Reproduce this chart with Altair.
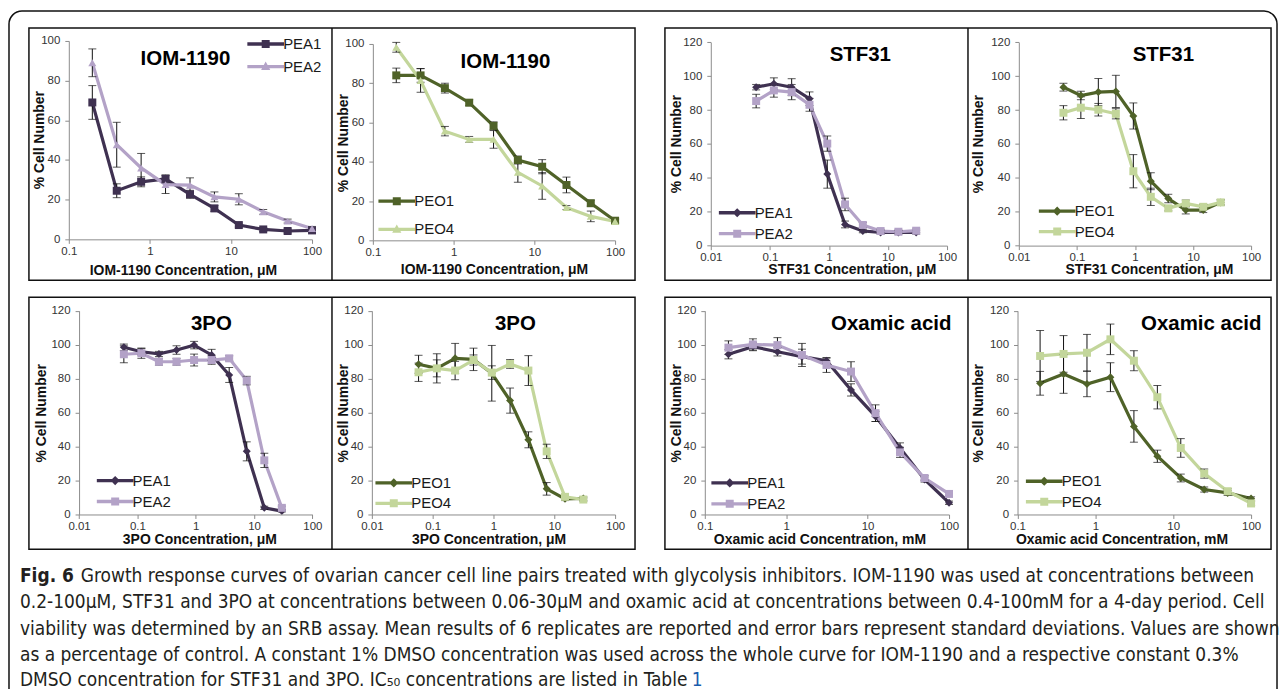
import altair as alt
import pandas as pd

M = 8          # page margin
W, H = 1276, 681

# ---------------- data ----------------
conc_iom = [0.195, 0.39, 0.78, 1.56, 3.125, 6.25, 12.5, 25, 50, 100]
conc_stf = [0.0586, 0.117, 0.234, 0.469, 0.938, 1.875, 3.75, 7.5, 15, 30]
conc_3po = [0.0586, 0.117, 0.234, 0.469, 0.938, 1.875, 3.75, 7.5, 15, 30]
conc_oxa = [0.195, 0.39, 0.78, 1.56, 3.125, 6.25, 12.5, 25, 50, 100]

iom_pea1 = [69, 24.5, 29, 30.5, 22.7, 15.6, 7.2, 5.0, 4.2, 4.5]
iom_pea1_sd = [8.5, 3.5, 2.5, 2.0, 2.0, 1.5, 1.0, 1.0, 1.0, 1.0]
iom_pea2 = [89, 47.7, 36, 27.6, 27.3, 21.4, 20.2, 13.9, 9.2, 5.5]
iom_pea2_sd = [7, 11.3, 7.3, 4.5, 3.7, 2.5, 2.8, 1.2, 1.0, 1.0]
iom_peo1 = [84, 84, 77.5, 70.1, 58.3, 40.9, 37.5, 28.2, 18.9, 10]
iom_peo1_sd = [3.7, 3.5, 2.5, 1.5, 2.0, 2.0, 3.6, 4.0, 1.5, 1.0]
iom_peo4 = [98.3, 81.4, 55.6, 51.4, 51.4, 34.6, 27.7, 16.7, 12.2, 9.6]
iom_peo4_sd = [2.5, 6.0, 2.4, 1.5, 4.5, 5.0, 6.8, 1.0, 2.7, 1.0]

stf_pea1 = [93.5, 95.5, 93.5, 86.7, 42.2, 12.5, 8.6, 7.8, 7.8, 7.8]
stf_pea1_sd = [1.6, 3.5, 5.0, 4.0, 8.3, 2.0, 1.0, 1.0, 1.0, 1.0]
stf_pea2 = [85.3, 91.6, 90.6, 83.1, 60.2, 24.3, 12.2, 8.6, 8.2, 8.8]
stf_pea2_sd = [4.0, 4.0, 4.5, 3.8, 4.5, 3.7, 1.5, 1.0, 1.0, 1.0]
stf_peo1 = [93.5, 88.6, 90.6, 91.0, 76.5, 38.0, 27.8, 21.0, 21.0, 25.5]
stf_peo1_sd = [2.3, 2.5, 8.0, 9.5, 7.7, 5.0, 2.5, 2.3, 1.5, 1.5]
stf_peo4 = [78.4, 81.4, 80.2, 77.8, 43.9, 28.8, 22.0, 24.9, 22.9, 25.5]
stf_peo4_sd = [4.2, 6.4, 3.7, 3.0, 9.8, 5.1, 1.5, 2.0, 1.5, 1.5]

tpo_pea1 = [98.5, 95.9, 94.6, 96.9, 99.8, 94.0, 82.2, 37.2, 3.9, 2.0]
tpo_pea1_sd = [1.9, 2.0, 1.5, 2.5, 2.2, 3.3, 4.4, 5.6, 1.0, 0.5]
tpo_pea2 = [94.4, 95.0, 90.0, 90.0, 91.0, 91.0, 92.0, 78.9, 31.9, 3.9]
tpo_pea2_sd = [5.0, 3.0, 2.0, 2.0, 3.5, 2.5, 1.5, 2.5, 4.2, 1.0]
tpo_peo1 = [88.5, 86.1, 92.0, 91.4, 83.2, 67.1, 44.0, 15.1, 9.2, 9.4]
tpo_peo1_sd = [5.3, 8.6, 8.8, 6.6, 16.4, 7.4, 4.7, 3.7, 1.0, 1.0]
tpo_peo4 = [83.8, 86.1, 84.8, 91.0, 83.6, 88.7, 84.8, 37.2, 10.4, 8.8]
tpo_peo4_sd = [5.4, 5.0, 5.4, 3.0, 4.0, 2.6, 8.8, 4.2, 1.0, 1.0]

oxa_pea1 = [94.4, 98.9, 95.9, 93.0, 90.6, 73.4, 57.8, 39.2, 20.6, 6.9]
oxa_pea1_sd = [2.7, 2.4, 2.5, 4.4, 1.5, 3.6, 3.0, 3.0, 1.5, 1.0]
oxa_pea2 = [98.3, 100.2, 99.8, 94.0, 88.1, 84.2, 59.7, 36.6, 21.5, 12.1]
oxa_pea2_sd = [4.0, 3.3, 4.4, 6.8, 4.4, 5.8, 4.9, 3.0, 1.5, 1.0]
oxa_peo1 = [77.3, 82.8, 76.9, 80.9, 51.9, 34.3, 21.5, 14.7, 12.7, 9.4]
oxa_peo1_sd = [7.0, 11.4, 7.5, 8.5, 9.3, 3.6, 2.3, 1.5, 1.5, 1.0]
oxa_peo4 = [93.4, 94.6, 95.3, 103.2, 90.6, 69.1, 39.2, 24.1, 13.7, 6.5]
oxa_peo4_sd = [15.0, 10.8, 10.8, 9.0, 5.9, 6.9, 5.5, 2.7, 1.5, 1.0]

pea_series = ["PEA1", "PEA2"]
peo_series = ["PEO1", "PEO4"]
pea_colors = ["#3f3151", "#b3a2c7"]
peo_colors = ["#4f6228", "#c3d69b"]

drug_titles = ["IOM-1190", "IOM-1190", "STF31", "STF31", "3PO", "3PO", "Oxamic acid", "Oxamic acid"]
x_titles = ["IOM-1190 Concentration, \u03bcM", "IOM-1190 Concentration, \u03bcM",
            "STF31 Concentration, \u03bcM", "STF31 Concentration, \u03bcM",
            "3PO Concentration, \u03bcM", "3PO Concentration, \u03bcM",
            "Oxamic acid Concentration, mM", "Oxamic acid Concentration, mM"]
y_title = "% Cell Number"
xticks_3 = [0.1, 1, 10, 100]
xticks_4 = [0.01, 0.1, 1, 10, 100]
yticks_100 = [0, 20, 40, 60, 80, 100]
yticks_120 = [0, 20, 40, 60, 80, 100, 120]

caption_bold = "Fig. 6"
caption_lines = [
    "Growth response curves of ovarian cancer cell line pairs treated with glycolysis inhibitors. IOM-1190 was used at concentrations between",
    "0.2-100\u03bcM, STF31 and 3PO at concentrations between 0.06-30\u03bcM and oxamic acid at concentrations between 0.4-100mM for a 4-day period. Cell",
    "viability was determined by an SRB assay. Mean results of 6 replicates are reported and error bars represent standard deviations. Values are shown",
    "as a percentage of control. A constant 1% DMSO concentration was used across the whole curve for IOM-1190 and a respective constant 0.3%",
    "DMSO concentration for STF31 and 3PO. IC\u2085\u2080 concentrations are listed in Table",
]
caption_link = "1"

# ---------------- styling helpers ----------------
FONT = "Liberation Sans"
CAP_FONT = "DejaVu Sans Condensed, Liberation Sans Narrow, sans-serif"
CAP_SIZE = 19.0
WING = "M-4.6,-0.42H4.6V0.42H-4.6Z "
PATH = {
    "square": WING + "M-1,-1H1V1H-1Z",
    "triangle-up": WING + "M0,-1.25L1.15,0.85H-1.15Z",
    "diamond": WING + "M0,-1.15L1.15,0L0,1.15L-1.15,0Z",
}

# panel geometry in page pixels
panels_cfg = [
    dict(conc=conc_iom, series=pea_series, colors=pea_colors, vals=[iom_pea1, iom_pea2], sds=[iom_pea1_sd, iom_pea2_sd],
         shapes=["square", "triangle-up"], xdom=[0.1, 100], xticks=xticks_3, ydom=[0, 100], yticks=yticks_100,
         x0=69, x1=313, yb=239, yt=40, xt=(183.5, 270), yt_=(40, 139), title=(186, 64.5), leg=(265, 43, 21.7)),
    dict(conc=conc_iom, series=peo_series, colors=peo_colors, vals=[iom_peo1, iom_peo4], sds=[iom_peo1_sd, iom_peo4_sd],
         shapes=["square", "triangle-up"], xdom=[0.1, 100], xticks=xticks_3, ydom=[0, 100], yticks=yticks_100,
         x0=374, x1=617, yb=240, yt=43, xt=(495.5, 269.5), yt_=(345, 142), title=(507, 67), leg=(396.5, 200.7, 27.3)),
    dict(conc=conc_stf, series=pea_series, colors=pea_colors, vals=[stf_pea1, stf_pea2], sds=[stf_pea1_sd, stf_pea2_sd],
         shapes=["diamond", "square"], xdom=[0.01, 100], xticks=xticks_4, ydom=[0, 120], yticks=yticks_120,
         x0=713, x1=950, yb=245.3, yt=41.3, xt=(854.5, 269.5), yt_=(679, 143), title=(863, 60.3), leg=(738, 212.3, 20)),
    dict(conc=conc_stf, series=peo_series, colors=peo_colors, vals=[stf_peo1, stf_peo4], sds=[stf_peo1_sd, stf_peo4_sd],
         shapes=["diamond", "square"], xdom=[0.01, 100], xticks=xticks_4, ydom=[0, 120], yticks=yticks_120,
         x0=1022, x1=1255, yb=245.3, yt=41.3, xt=(1152.5, 269.5), yt_=(982, 143), title=(1167, 60.3), leg=(1059, 210.7, 19.5)),
    dict(conc=conc_3po, series=pea_series, colors=pea_colors, vals=[tpo_pea1, tpo_pea2], sds=[tpo_pea1_sd, tpo_pea2_sd],
         shapes=["diamond", "square"], xdom=[0.01, 100], xticks=xticks_4, ydom=[0, 120], yticks=yticks_120,
         x0=79.3, x1=313.3, yb=515, yt=310.7, xt=(200, 540), yt_=(42, 413), title=(212, 330), leg=(114, 481, 20)),
    dict(conc=conc_3po, series=peo_series, colors=peo_colors, vals=[tpo_peo1, tpo_peo4], sds=[tpo_peo1_sd, tpo_peo4_sd],
         shapes=["diamond", "square"], xdom=[0.01, 100], xticks=xticks_4, ydom=[0, 120], yticks=yticks_120,
         x0=373, x1=617, yb=515, yt=310.7, xt=(490, 540), yt_=(345, 413), title=(517, 330), leg=(393.5, 483.3, 19.5)),
    dict(conc=conc_oxa, series=pea_series, colors=pea_colors, vals=[oxa_pea1, oxa_pea2], sds=[oxa_pea1_sd, oxa_pea2_sd],
         shapes=["diamond", "square"], xdom=[0.1, 100], xticks=xticks_3, ydom=[0, 120], yticks=yticks_120,
         x0=707, x1=952, yb=515, yt=310.7, xt=(822, 540), yt_=(679, 413), title=(894, 330), leg=(730.5, 483.3, 20)),
    dict(conc=conc_oxa, series=peo_series, colors=peo_colors, vals=[oxa_peo1, oxa_peo4], sds=[oxa_peo1_sd, oxa_peo4_sd],
         shapes=["diamond", "square"], xdom=[0.1, 100], xticks=xticks_3, ydom=[0, 120], yticks=yticks_120,
         x0=1020.7, x1=1255, yb=515, yt=310.7, xt=(1125, 540), yt_=(982, 413), title=(1205, 329.5), leg=(1046, 481.7, 19.5)),
]

LEG_ENTRY_H = 15


def panel_layers(i, p):
    rows = []
    for s, vals, sds in zip(p["series"], p["vals"], p["sds"]):
        for c, v, sd in zip(p["conc"], vals, sds):
            rows.append({"conc": c, "pct": v, "lo": v - sd, "hi": v + sd, "series": s})
    df = pd.DataFrame(rows)

    def xs():
        return alt.Scale(type="log", domain=p["xdom"], range=[p["x0"] - M, p["x1"] - M], nice=False)

    def ys():
        return alt.Scale(type="linear", domain=p["ydom"], range=[p["yb"] - M, p["yt"] - M], nice=False, zero=False)

    def cs():
        return alt.Scale(domain=p["series"], range=p["colors"])

    ss = alt.Scale(domain=p["series"], range=p["shapes"])
    ls = alt.Scale(domain=p["series"], range=[PATH[p["shapes"][0]], PATH[p["shapes"][1]]])

    common_axis = dict(grid=False, labelFont=FONT, labelFontSize=11.5, labelColor="#333333",
                       titleFont=FONT, titleFontSize=14, titleFontWeight="bold", titleColor="#111111",
                       domainColor="#8c8c8c", tickColor="#8c8c8c", tickSize=4, labelFlush=False,
                       labelOverlap=False, titleAlign="center", titleBaseline="middle", zindex=1)
    xaxis = alt.Axis(orient="bottom", offset=(p["yb"] - M) - H, values=p["xticks"], format="~g",
                     title=x_titles[i], titleX=p["xt"][0] - M, titleY=p["xt"][1] - p["yb"],
                     labelPadding=2, **common_axis)
    yaxis = alt.Axis(orient="left", offset=-(p["x0"] - M), values=p["yticks"], format="d",
                     title=y_title, titleX=p["yt_"][0] - p["x0"], titleY=p["yt_"][1] - M, titleAngle=270,
                     labelPadding=5, **common_axis)

    legend = alt.Legend(
        orient="none", legendX=p["leg"][0] - M - 6, legendY=p["leg"][1] - M - LEG_ENTRY_H / 2,
        title=None, padding=0, labelFont=FONT, labelFontSize=15, labelColor="#1a1a1a",
        symbolSize=64, symbolStrokeWidth=0, symbolOpacity=1, labelOffset=10,
        rowPadding=p["leg"][2] - LEG_ENTRY_H,
    )

    base = alt.Chart(df)
    line = base.mark_line(strokeWidth=3.2).encode(
        x=alt.X("conc:Q", scale=xs(), axis=xaxis),
        y=alt.Y("pct:Q", scale=ys(), axis=yaxis),
        color=alt.Color("series:N", scale=cs(), legend=None),
        order=alt.Order("conc:Q"),
    )
    err = base.mark_errorbar(ticks=True, size=8, thickness=1, color="#111111").encode(
        x=alt.X("conc:Q", scale=xs(), axis=None),
        y=alt.Y("lo:Q", scale=ys(), axis=None),
        y2=alt.Y2("hi:Q"),
    )
    pts = base.mark_point(filled=True, size=64, opacity=1, strokeWidth=0).encode(
        x=alt.X("conc:Q", scale=xs(), axis=None),
        y=alt.Y("pct:Q", scale=ys(), axis=None),
        color=alt.Color("series:N", scale=cs(), legend=None),
        shape=alt.Shape("series:N", scale=ss, legend=None),
    )
    # legend source: draws nothing, only provides the merged colour + line/marker legend
    leg = base.transform_filter("false").mark_point(filled=True, opacity=1, strokeWidth=0).encode(
        color=alt.Color("series:N", scale=cs(), legend=legend),
        shape=alt.Shape("series:N", scale=ls, legend=legend),
    )
    return [line, err, pts, leg]


layers = []
for i, p in enumerate(panels_cfg):
    layers.extend(panel_layers(i, p))

# ---------------- decoration ----------------
px = lambda v: v - M
frames_df = pd.DataFrame({
    "x": [px(29), px(667), px(29), px(667)],
    "x2": [px(637), px(1275), px(637), px(1275)],
    "y": [px(27), px(27), px(297), px(297)],
    "y2": [px(280), px(280), px(550), px(550)],
})
frames = alt.Chart(frames_df).mark_rect(fill="transparent", stroke="#111111", strokeWidth=1.5).encode(
    x=alt.X("x:Q", scale=None, axis=None), x2="x2:Q",
    y=alt.Y("y:Q", scale=None, axis=None), y2="y2:Q")

div_df = pd.DataFrame({"x": [px(333), px(971), px(333), px(971)],
                       "y": [px(27), px(27), px(297), px(297)],
                       "y2": [px(280), px(280), px(550), px(550)]})
dividers = alt.Chart(div_df).mark_rule(stroke="#111111", strokeWidth=1.5).encode(
    x=alt.X("x:Q", scale=None, axis=None),
    y=alt.Y("y:Q", scale=None, axis=None), y2="y2:Q")

outer_df = pd.DataFrame({"x": [px(9)], "x2": [px(1281)], "y": [px(10)], "y2": [px(740)]})
outer = alt.Chart(outer_df).mark_rect(fill="transparent", stroke="#111111", strokeWidth=1.5, cornerRadius=13).encode(
    x=alt.X("x:Q", scale=None, axis=None), x2="x2:Q",
    y=alt.Y("y:Q", scale=None, axis=None), y2="y2:Q")

titles_df = pd.DataFrame({"t": drug_titles,
                          "x": [px(p["title"][0]) for p in panels_cfg],
                          "y": [px(p["title"][1]) for p in panels_cfg]})
titles = alt.Chart(titles_df).mark_text(font=FONT, fontWeight="bold", fontSize=20.5, align="center",
                                        baseline="alphabetic", color="#000000").encode(
    x=alt.X("x:Q", scale=None, axis=None), y=alt.Y("y:Q", scale=None, axis=None), text="t:N")

cap_y = [576.5, 603, 629.5, 656, 681.5]
cap_df = pd.DataFrame({"t": caption_lines,
                       "x": [px(81), px(20), px(20), px(20), px(20)],
                       "y": [px(v) for v in cap_y]})
caption = alt.Chart(cap_df).mark_text(font=CAP_FONT, fontSize=CAP_SIZE, align="left", baseline="middle",
                                      color="#231f20").encode(
    x=alt.X("x:Q", scale=None, axis=None), y=alt.Y("y:Q", scale=None, axis=None), text="t:N")

capb_df = pd.DataFrame({"t": [caption_bold], "x": [px(20)], "y": [px(cap_y[0])]})
caption_b = alt.Chart(capb_df).mark_text(font=CAP_FONT, fontSize=CAP_SIZE, fontWeight="bold", align="left",
                                         baseline="middle", color="#231f20").encode(
    x=alt.X("x:Q", scale=None, axis=None), y=alt.Y("y:Q", scale=None, axis=None), text="t:N")

capl_df = pd.DataFrame({"t": [caption_link], "x": [px(694)], "y": [px(cap_y[4])]})
caption_l = alt.Chart(capl_df).mark_text(font=CAP_FONT, fontSize=CAP_SIZE, align="left",
                                         baseline="middle", color="#1a5dad").encode(
    x=alt.X("x:Q", scale=None, axis=None), y=alt.Y("y:Q", scale=None, axis=None), text="t:N")

chart = (
    alt.layer(*layers, frames, dividers, outer, titles, caption, caption_b, caption_l)
    .resolve_scale(x="independent", y="independent", color="independent", shape="independent")
    .resolve_axis(x="independent", y="independent")
    .resolve_legend(color="independent", shape="independent")
    .properties(width=W, height=H, autosize=alt.AutoSizeParams(type="none"), padding=0,
                background="#ffffff")
    .configure_view(strokeWidth=0)
)

chart.save("out.html", embed_options={"renderer": "svg", "actions": False})
